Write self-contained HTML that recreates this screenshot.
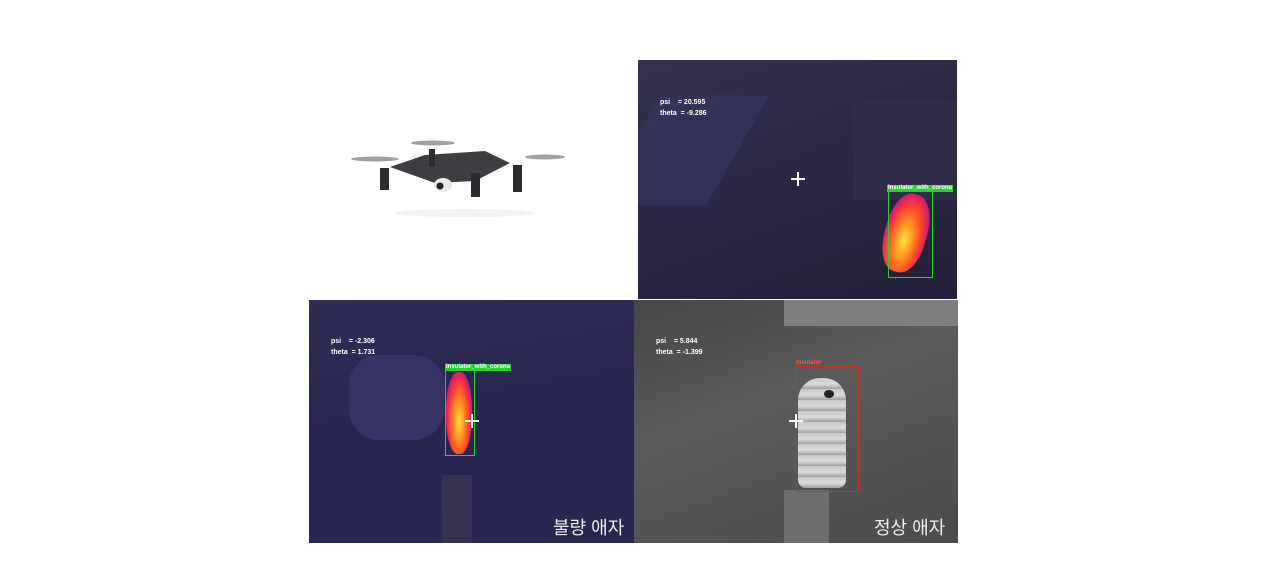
<!DOCTYPE html>
<html><head><meta charset="utf-8">
<style>
body{margin:0;width:1287px;height:573px;background:#fff;position:relative;overflow:hidden;font-family:"Liberation Sans","Noto Sans CJK KR",sans-serif}
.abs{position:absolute}
.panel{position:absolute;overflow:hidden}
.txt{position:absolute;color:#fff;font-size:7px;font-weight:bold;line-height:11px;white-space:pre}
.cross{position:absolute;width:14px;height:14px}
.cross:before{content:"";position:absolute;left:6px;top:0;width:1.5px;height:14px;background:#fff}
.cross:after{content:"";position:absolute;top:6px;left:0;height:1.5px;width:14px;background:#fff}
.heat{position:absolute;border-radius:45%;background:radial-gradient(ellipse at 50% 60%,#ffe040 0%,#ff9a20 25%,#ff4a2a 50%,#e02060 68%,rgba(150,40,230,0.7) 85%,rgba(80,40,200,0) 100%)}
.lbl{position:absolute;font-size:6px;font-weight:bold;color:#fff;line-height:7px;padding:0 1px}
</style></head><body>
<div class="abs" style="left:345px;top:135px;width:240px;height:85px">
<svg width="240" height="85" viewBox="0 0 240 85">
<ellipse cx="30" cy="24" rx="24" ry="2.5" fill="#777" opacity=".7"/>
<ellipse cx="88" cy="8" rx="22" ry="2.5" fill="#777" opacity=".7"/>
<ellipse cx="200" cy="22" rx="20" ry="2.5" fill="#777" opacity=".7"/>
<ellipse cx="124" cy="28" rx="16" ry="2.5" fill="#888" opacity=".6"/>
<polygon points="45,32 80,20 140,16 165,28 130,46 90,48" fill="#3c3e42"/>
<rect x="35" y="33" width="9" height="22" fill="#2a2c30"/>
<rect x="168" y="30" width="9" height="27" fill="#2a2c30"/>
<rect x="126" y="38" width="9" height="24" fill="#2a2c30"/>
<rect x="84" y="14" width="6" height="18" fill="#2a2c30"/>
<ellipse cx="98" cy="50" rx="9" ry="7" fill="#e8e8e8"/>
<circle cx="95" cy="51" r="3.5" fill="#222"/>
<ellipse cx="120" cy="78" rx="70" ry="4" fill="#f2f2f2"/>
</svg></div>

<div class="panel" style="left:638px;top:60px;width:319px;height:239px;background:linear-gradient(160deg,#34324f 0%,#2a2843 45%,#232039 100%)">
<div class="abs" style="left:-10px;top:35px;width:110px;height:110px;background:#35335a;transform:skewX(-30deg);opacity:.8"></div>
<div class="abs" style="left:215px;top:40px;width:104px;height:100px;background:#2e2c46"></div>
<div class="txt" style="left:22px;top:37px">psi    = 20.595
theta  = -9.286</div>
<div class="cross" style="left:153px;top:112px"></div>
<div class="heat" style="left:247px;top:133px;width:42px;height:80px;transform:rotate(15deg)"></div>
<div class="abs" style="left:250px;top:131px;width:43px;height:85px;border:1.5px solid #28d030"></div>
<div class="lbl" style="left:249px;top:125px;background:#28d030">Insulator_with_corona</div>
</div>

<div class="panel" style="left:309px;top:300px;width:325px;height:243px;background:linear-gradient(170deg,#302d55 0%,#28254e 50%,#29264f 100%)">
<div class="abs" style="left:40px;top:55px;width:95px;height:85px;background:#363362;border-radius:30px"></div>
<div class="abs" style="left:133px;top:175px;width:30px;height:68px;background:#34304e"></div>
<div class="txt" style="left:22px;top:36px">psi    = -2.306
theta  = 1.731</div>
<div class="heat" style="left:137px;top:72px;width:26px;height:82px"></div>
<div class="abs" style="left:136px;top:70px;width:28px;height:84px;border:1.5px solid #28d030"></div>
<div class="lbl" style="left:136px;top:64px;background:#28d030">Insulator_with_corona</div>
<div class="cross" style="left:156px;top:114px"></div>
<div class="abs" style="left:244px;top:214px;color:#eee;font-size:18px">불량 애자</div>
</div>

<div class="panel" style="left:634px;top:300px;width:324px;height:243px;background:linear-gradient(160deg,#464646 0%,#5a5a5a 40%,#4c4c4c 100%)">
<div class="abs" style="left:150px;top:0;width:174px;height:26px;background:#7e7e7e"></div>
<div class="txt" style="left:22px;top:36px">psi    = 5.844
theta  = -1.399</div>
<div class="abs" style="left:150px;top:190px;width:45px;height:53px;background:#6e6e6e"></div>
<div class="abs" style="left:164px;top:78px;width:48px;height:110px;border-radius:22px 22px 8px 8px;background:repeating-linear-gradient(180deg,#c8c8c8 0px,#dcdcdc 6px,#a0a0a0 11px)"></div>
<div class="abs" style="left:190px;top:90px;width:10px;height:8px;border-radius:50%;background:#222"></div>
<div class="abs" style="left:161px;top:66px;width:62px;height:124px;border:1.5px solid #d03020"></div>
<div class="lbl" style="left:161px;top:60px;color:#ff5040;background:none">Insulator</div>
<div class="cross" style="left:155px;top:114px"></div>
<div class="abs" style="left:240px;top:214px;color:#eee;font-size:18px">정상 애자</div>
</div>
</body></html>
